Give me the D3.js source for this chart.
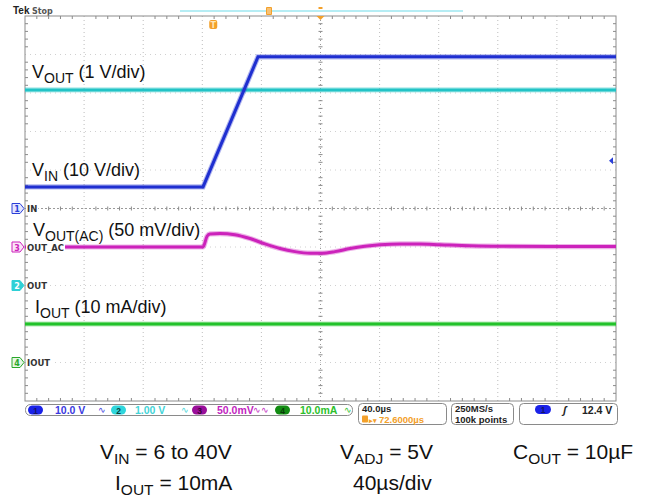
<!DOCTYPE html>
<html>
<head>
<meta charset="utf-8">
<script src="https://cdn.jsdelivr.net/npm/d3@7/dist/d3.min.js"></script>
<style>
  html, body { margin: 0; padding: 0; background: #fff; }
  svg { display: block; }
</style>
</head>
<body>
<svg id="scope" width="647" height="498"></svg>
<script>
// ---- acquisition settings ----
const timePerDivUs = 40;
const horizontalDelayUs = 72.6;          // screen centre relative to trigger
const triggerLevelV = 12.4;

// channel scales (units per division) and ground positions (divisions from centre)
const channelIds    = [1, 2, 3, 4];
const channelLabels = ["IN", "OUT", "OUT_AC", "IOUT"];
const channelScales = [10, 1, 50, 10];    // V, V, mV, mA per div
const channelOffsets = [0, -2, -1, -4];
const channelColors = ["#1f2fd0", "#22c3c6", "#cc22bb", "#22c22a"];
const channelScaleText = ["10.0 V", "1.00 V", "50.0mV", "10.0mA"];

// ---- waveforms (time in µs relative to trigger) ----
const vinTime  = [-127.4, -6.9, 30.3, 272.6];
const vinVolts = [5.6, 5.6, 39.4, 39.4];

const voutTime  = [-127.4, 272.6];
const voutVolts = [5.08, 5.08];

const acTime = [-127.4, -6.9, -4.2, -2.2, 4.6, 14.6, 24.9, 35.0, 45.2, 55.3, 65.5, 73.6,
                82.4, 92.6, 102.6, 112.9, 126.4, 139.9, 153.5, 173.6, 194.1, 227.6, 272.6];
const acMilliVolts = [0, 0, 14, 17, 17.5, 16, 11, 4, -2, -6, -8, -8,
                      -6, -2, 1, 3, 4, 4, 3, 1.5, 1, 0.5, 0.5];

const ioutTime = [-127.4, 272.6];
const ioutMilliAmps = [10, 10];

// ---- geometry ----
const svg = d3.select("#scope");
const plot = { left: 25, right: 616, top: 16, bottom: 401 };
const hDivs = 10, vDivs = 10;

const x = d3.scaleLinear()
  .domain([horizontalDelayUs - timePerDivUs * hDivs / 2, horizontalDelayUs + timePerDivUs * hDivs / 2])
  .range([plot.left, plot.right]);
const xDiv = d3.scaleLinear().domain([0, hDivs]).range([plot.left, plot.right]);
const yDiv = d3.scaleLinear().domain([-vDivs / 2, vDivs / 2]).range([plot.bottom, plot.top]);

const chanY = (i) => (v) => yDiv(v / channelScales[i] + channelOffsets[i]);

// ---- header ----
svg.append("text").attr("x", 13).attr("y", 14)
  .attr("font-family", "Liberation Sans, Arial, sans-serif").attr("font-weight", "bold")
  .attr("font-size", 10).attr("fill", "#222").text("Tek");
svg.append("text").attr("x", 32).attr("y", 14)
  .attr("font-family", "DejaVu Sans, sans-serif").attr("font-weight", "bold")
  .attr("font-size", 8).attr("fill", "#555").text("Stop");

// record window indicator
svg.append("line").attr("x1", 180).attr("x2", 463).attr("y1", 11).attr("y2", 11)
  .attr("stroke", "#6fdcea").attr("stroke-width", 1.2);
svg.append("rect").attr("x", 266).attr("y", 7).attr("width", 6).attr("height", 8)
  .attr("rx", 1).attr("fill", "#f3a02a");
svg.append("line").attr("x1", 268).attr("x2", 268).attr("y1", 8).attr("y2", 14).attr("stroke", "#fff").attr("stroke-width", 0.7);
svg.append("line").attr("x1", 270).attr("x2", 270).attr("y1", 8).attr("y2", 14).attr("stroke", "#fff").attr("stroke-width", 0.7);
svg.append("path").attr("d", `M${x(horizontalDelayUs) - 2},7 h4 v2 h-4 z`).attr("fill", "#f3a02a");

// ---- graticule ----
const grid = svg.append("g");
grid.append("rect").attr("x", plot.left).attr("y", plot.top)
  .attr("width", plot.right - plot.left).attr("height", plot.bottom - plot.top)
  .attr("fill", "#fff").attr("stroke", "none");

d3.range(1, hDivs).forEach(k => {
  grid.append("line").attr("x1", xDiv(k)).attr("x2", xDiv(k))
    .attr("y1", plot.top).attr("y2", plot.bottom)
    .attr("stroke", k === hDivs / 2 ? "#9a9a9a" : "#bdbdbd")
    .attr("stroke-width", 1).attr("stroke-dasharray", "1,3");
});
d3.range(-vDivs / 2 + 1, vDivs / 2).forEach(k => {
  grid.append("line").attr("x1", plot.left).attr("x2", plot.right)
    .attr("y1", yDiv(k)).attr("y2", yDiv(k))
    .attr("stroke", k === 0 ? "#9a9a9a" : "#d0d0d0")
    .attr("stroke-width", 1).attr("stroke-dasharray", k === 0 ? "2,2" : "1,4");
});

// minor ticks on centre lines and border
const minorX = d3.range(0, hDivs * 5 + 1).map(i => xDiv(i / 5));
const minorY = d3.range(0, vDivs * 5 + 1).map(i => yDiv(-vDivs / 2 + i / 5));
minorX.forEach((px, i) => {
  if (i % 5 === 0) return;
  const cy = yDiv(0);
  grid.append("line").attr("x1", px).attr("x2", px).attr("y1", cy - 2).attr("y2", cy + 2).attr("stroke", "#8a8a8a");
  grid.append("line").attr("x1", px).attr("x2", px).attr("y1", plot.top).attr("y2", plot.top + 3).attr("stroke", "#8a8a8a");
  grid.append("line").attr("x1", px).attr("x2", px).attr("y1", plot.bottom - 3).attr("y2", plot.bottom).attr("stroke", "#8a8a8a");
});
minorY.forEach((py, i) => {
  if (i % 5 === 0) return;
  const cx = xDiv(hDivs / 2);
  grid.append("line").attr("x1", cx - 2).attr("x2", cx + 2).attr("y1", py).attr("y2", py).attr("stroke", "#8a8a8a");
  grid.append("line").attr("x1", plot.left).attr("x2", plot.left + 3).attr("y1", py).attr("y2", py).attr("stroke", "#8a8a8a");
  grid.append("line").attr("x1", plot.right - 3).attr("x2", plot.right).attr("y1", py).attr("y2", py).attr("stroke", "#8a8a8a");
});
grid.append("rect").attr("x", plot.left).attr("y", plot.top)
  .attr("width", plot.right - plot.left).attr("height", plot.bottom - plot.top)
  .attr("fill", "none").attr("stroke", "#8c8c8c").attr("stroke-width", 1);

// ---- traces ----
const traces = svg.append("g");
function drawTrace(times, values, ci, curve) {
  const line = d3.line().x((d, i) => x(times[i])).y(d => chanY(ci)(d)).curve(curve || d3.curveLinear);
  traces.append("path").datum(values).attr("d", line).attr("fill", "none")
    .attr("stroke", channelColors[ci]).attr("stroke-opacity", 0.35).attr("stroke-width", 5.2);
  traces.append("path").datum(values).attr("d", line).attr("fill", "none")
    .attr("stroke", channelColors[ci]).attr("stroke-width", 3);
}
drawTrace(ioutTime, ioutMilliAmps, 3);
drawTrace(acTime, acMilliVolts, 2, d3.curveMonotoneX);
drawTrace(voutTime, voutVolts, 1);
drawTrace(vinTime, vinVolts, 0);

// ---- channel ground markers ----
const markers = svg.append("g");
const markerStyle = [
  { fill: "#e4e6ff", stroke: "#2a3fd8", text: "#2a3fd8" },
  { fill: "#2fd0d6", stroke: "#2fd0d6", text: "#fff" },
  { fill: "#fbe6f7", stroke: "#cc22bb", text: "#cc22bb" },
  { fill: "#e6f7e6", stroke: "#2aa82a", text: "#2aa82a" }
];
channelIds.forEach((id, i) => {
  const cy = yDiv(channelOffsets[i]);
  const lbl = markers.append("text").attr("x", 27).attr("y", cy + 3.5)
    .attr("font-family", "DejaVu Sans, sans-serif").attr("font-weight", "bold")
    .attr("font-size", 8.5).attr("fill", "#333").text(channelLabels[i]);
  const w = lbl.node().getComputedTextLength();
  markers.insert("rect", "text").attr("x", 26).attr("y", cy - 5).attr("width", w + 2).attr("height", 10).attr("fill", "#fff");
  markers.append("path")
    .attr("d", `M${12},${cy - 5} h8 l4,5 l-4,5 h-8 z`)
    .attr("fill", markerStyle[i].fill).attr("stroke", markerStyle[i].stroke).attr("stroke-width", 1);
  markers.append("text").attr("x", 17).attr("y", cy + 3.5).attr("text-anchor", "middle")
    .attr("font-family", "DejaVu Sans, sans-serif").attr("font-weight", "bold")
    .attr("font-size", 8).attr("fill", markerStyle[i].text).text(id);
});

// trigger position marker
const tx = x(0);
svg.append("rect").attr("x", tx - 4).attr("y", 20).attr("width", 8).attr("height", 9).attr("rx", 2).attr("fill", "#f3a02a");
svg.append("text").attr("x", tx).attr("y", 27.5).attr("text-anchor", "middle")
  .attr("font-family", "DejaVu Sans, sans-serif").attr("font-weight", "bold")
  .attr("font-size", 8).attr("fill", "#ffe7b8").text("T");
// expansion point marker
svg.append("path").attr("d", `M${x(horizontalDelayUs) - 4},${plot.top} h8 l-4,4 z`).attr("fill", "#f3a02a");
// trigger level arrow
const ty = chanY(0)(triggerLevelV);
svg.append("path").attr("d", `M${plot.right - 7},${ty} l4,-3.5 v7 z`).attr("fill", "#2a3fd8");

// ---- annotations ----
function subText(g, px, py, parts, size, subSize, shift) {
  const t = g.append("text").attr("x", px).attr("y", py)
    .attr("font-family", "Liberation Sans, Arial, sans-serif").attr("font-size", size).attr("fill", "#111");
  let shifted = 0;
  parts.forEach(([s, sub]) => {
    const sp = t.append("tspan").text(s);
    if (sub && !shifted) { sp.attr("dy", shift).attr("font-size", subSize); shifted = 1; }
    else if (sub) { sp.attr("font-size", subSize); }
    else if (shifted) { sp.attr("dy", -shift); shifted = 0; }
  });
  return t;
}
const notes = svg.append("g");
subText(notes, 32, 78, [["V"], ["OUT", 1], [" (1 V/div)"]], 18, 14, 4.5);
subText(notes, 32, 176, [["V"], ["IN", 1], [" (10 V/div)"]], 18, 14, 4.5);
subText(notes, 33, 236, [["V"], ["OUT(AC)", 1], [" (50 mV/div)"]], 18, 14, 4.5);
subText(notes, 35, 313, [["I"], ["OUT", 1], [" (10 mA/div)"]], 18, 14, 4.5);

// ---- status bar ----
const bar = svg.append("g").attr("font-family", "Liberation Sans, Arial, sans-serif")
  .attr("font-weight", "bold").attr("font-size", 10.5);
bar.append("rect").attr("x", 25.5).attr("y", 404.5).attr("width", 327).attr("height", 11)
  .attr("rx", 5).attr("fill", "#fff").attr("stroke", "#8a8a8a");
const chipX = [28, 111, 192, 275];
const textX = [55, 135, 217, 300];
const bwX = [98, 181, 253, 344];
const chipFill = ["#1a22e8", "#2fd6dc", "#9a0e9a", "#138c13"];
const chipText = ["#14146a", "#0b3a3a", "#3a043a", "#0a3a0a"];
const bwSym = ["∿", "∿", "∿∿", "∿"];
const scaleColors = ["#3a3ae0", "#44d4d8", "#c21fc0", "#2cbf2c"];
channelIds.forEach((id, i) => {
  bar.append("rect").attr("x", chipX[i]).attr("y", 405.5).attr("width", 15).attr("height", 9)
    .attr("rx", 4.5).attr("fill", chipFill[i]);
  bar.append("text").attr("x", chipX[i] + 7.5).attr("y", 413.5).attr("text-anchor", "middle")
    .attr("font-size", 8.5).attr("fill", chipText[i]).text(id);
  bar.append("text").attr("x", textX[i]).attr("y", 414).attr("fill", scaleColors[i]).text(channelScaleText[i]);
  bar.append("text").attr("x", bwX[i]).attr("y", 413).attr("font-size", 9)
    .attr("font-weight", "normal").attr("fill", scaleColors[i]).text(bwSym[i]);
});

// timebase, sampling and trigger boxes
const boxes = bar.append("g").attr("font-size", 9.5);
[[358, 88], [451, 62], [519, 98]].forEach(([bx, bw]) => {
  boxes.append("rect").attr("x", bx + 0.5).attr("y", 403.5).attr("width", bw).attr("height", 21)
    .attr("rx", 4).attr("fill", "#fff").attr("stroke", "#8a8a8a");
});
boxes.append("text").attr("x", 362).attr("y", 412).attr("fill", "#222").text(`${timePerDivUs.toFixed(1)}µs`);
boxes.append("rect").attr("x", 362).attr("y", 415.5).attr("width", 6).attr("height", 7).attr("rx", 1).attr("fill", "#f3a02a");
boxes.append("text").attr("x", 369).attr("y", 422.5).attr("fill", "#f3a02a").attr("font-size", 7).text("▸▾");
boxes.append("text").attr("x", 379).attr("y", 422.5).attr("fill", "#f3a02a").text(`${horizontalDelayUs.toFixed(4)}µs`);
boxes.append("text").attr("x", 455).attr("y", 412).attr("fill", "#222").text("250MS/s");
boxes.append("text").attr("x", 455).attr("y", 422.5).attr("fill", "#222").text("100k points");
boxes.append("rect").attr("x", 535).attr("y", 405).attr("width", 16).attr("height", 9).attr("rx", 4.5).attr("fill", "#1a22e8");
boxes.append("text").attr("x", 543).attr("y", 413).attr("text-anchor", "middle").attr("font-size", 8.5).attr("fill", "#14146a").text("1");
boxes.append("text").attr("x", 563).attr("y", 413.5).attr("font-size", 10.5).attr("fill", "#222").attr("font-style", "italic").text("ʃ");
boxes.append("text").attr("x", 582).attr("y", 413.5).attr("font-size", 10.5).attr("fill", "#222").text(`${triggerLevelV.toFixed(1)} V`);

// ---- test conditions ----
const cond = svg.append("g");
subText(cond, 100, 459, [["V"], ["IN", 1], [" = 6 to 40V"]], 21, 15.5, 5);
subText(cond, 115, 490, [["I"], ["OUT", 1], [" = 10mA"]], 21, 15.5, 5);
subText(cond, 340, 459, [["V"], ["ADJ", 1], [" = 5V"]], 21, 15.5, 5);
subText(cond, 353, 490, [["40µs/div"]], 21, 15.5, 5);
subText(cond, 513, 459, [["C"], ["OUT", 1], [" = 10µF"]], 21, 15.5, 5);
</script>
</body>
</html>
